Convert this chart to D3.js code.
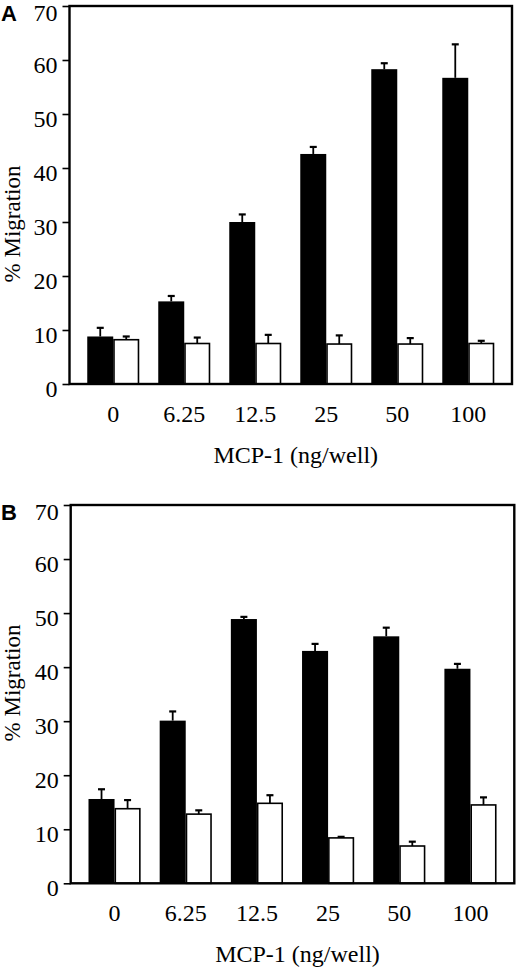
<!DOCTYPE html>
<html>
<head>
<meta charset="utf-8">
<script src="https://cdn.jsdelivr.net/npm/d3@7"></script>
<style>
  body { margin: 0; background: #fff; }
  svg text { font-family: "Liberation Serif", "Times New Roman", serif; fill: #000; }
  .panel-letter { font-family: "Liberation Sans", Arial, sans-serif !important; font-weight: bold; }
</style>
</head>
<body>
<div id="chart"></div>
<script>
// MCP-1 doses (ng/well)
const doses = ["0", "6.25", "12.5", "25", "50", "100"];
const series = ["black", "white"];
const yTicks = [0, 10, 20, 30, 40, 50, 60, 70];

// panel A, % migration (mean) and upper error
const blackA = [8.8, 15.3, 30.0, 42.6, 58.3, 56.7];
const blackErrA = [1.6, 1.0, 1.4, 1.3, 1.1, 6.2];
const whiteA = [8.2, 7.5, 7.5, 7.4, 7.4, 7.5];
const whiteErrA = [0.6, 1.1, 1.6, 1.6, 1.1, 0.5];

// panel B
const blackB = [15.6, 30.1, 48.9, 43.0, 45.7, 39.7];
const blackErrB = [1.8, 1.7, 0.4, 1.3, 1.6, 0.9];
const whiteB = [13.8, 12.8, 14.8, 8.4, 6.9, 14.5];
const whiteErrB = [1.6, 0.7, 1.5, 0.2, 0.8, 1.4];

const width = 520, height = 970;

const panels = [
  {letter: "A", left: 69.5, right: 512, top: 6, bottom: 384, titleY: 224,
   black: blackA, blackErr: blackErrA, white: whiteA, whiteErr: whiteErrA},
  {letter: "B", left: 70.7, right: 514.3, top: 505, bottom: 883.3, titleY: 683,
   black: blackB, blackErr: blackErrB, white: whiteB, whiteErr: whiteErrB}
];

const svg = d3.select("#chart").append("svg")
  .attr("width", width)
  .attr("height", height);

panels.forEach(function(p) {
  const x = d3.scaleBand()
    .domain(doses)
    .range([p.left, p.right])
    .paddingInner(0.268)
    .paddingOuter(0.25);

  const xs = d3.scaleBand()
    .domain(series)
    .range([0, x.bandwidth()]);

  const y = d3.scaleLinear()
    .domain([0, 70])
    .range([p.bottom, p.top]);

  const g = svg.append("g");

  const rows = doses.map(function(d, i) {
    return [
      {dose: d, s: "black", v: p.black[i], e: p.blackErr[i]},
      {dose: d, s: "white", v: p.white[i], e: p.whiteErr[i]}
    ];
  }).flat();

  // error bars (upper only)
  const err = g.selectAll(".err")
    .data(rows)
    .enter().append("g")
    .attr("class", "err")
    .attr("stroke", "#000")
    .attr("stroke-width", 1.8);

  err.append("line")
    .attr("x1", d => x(d.dose) + xs(d.s) + xs.bandwidth() / 2)
    .attr("x2", d => x(d.dose) + xs(d.s) + xs.bandwidth() / 2)
    .attr("y1", d => y(d.v))
    .attr("y2", d => y(d.v + d.e));

  err.append("line")
    .attr("x1", d => x(d.dose) + xs(d.s) + xs.bandwidth() / 2 - 3.5)
    .attr("x2", d => x(d.dose) + xs(d.s) + xs.bandwidth() / 2 + 3.5)
    .attr("y1", d => y(d.v + d.e))
    .attr("y2", d => y(d.v + d.e))
    .attr("stroke-width", 2.2);

  // bars
  g.selectAll(".bar")
    .data(rows)
    .enter().append("rect")
    .attr("class", "bar")
    .attr("x", d => x(d.dose) + xs(d.s) + (d.s === "white" ? 0.75 : 0))
    .attr("width", d => xs.bandwidth() - (d.s === "white" ? 1.5 : 0))
    .attr("y", d => y(d.v))
    .attr("height", d => y(0) - y(d.v))
    .attr("fill", d => d.s === "black" ? "#000" : "#fff")
    .attr("stroke", d => d.s === "black" ? "none" : "#000")
    .attr("stroke-width", 1.6);

  // frame
  g.append("rect")
    .attr("x", p.left)
    .attr("y", p.top)
    .attr("width", p.right - p.left)
    .attr("height", p.bottom - p.top)
    .attr("fill", "none")
    .attr("stroke", "#000")
    .attr("stroke-width", 2.4);

  // y axis
  const yAxis = g.append("g")
    .attr("transform", "translate(" + p.left + ",0)")
    .call(d3.axisLeft(y).tickValues(yTicks).tickSize(7).tickPadding(5).tickFormat(d3.format("d")));
  yAxis.select(".domain").remove();
  yAxis.selectAll(".tick line").attr("stroke", "#000").attr("stroke-width", 1.6);
  yAxis.selectAll(".tick text")
    .attr("font-size", 24)
    .attr("dy", d => d === 70 ? "0.62em" : "0.5em");

  // x axis (labels only)
  const xAxis = g.append("g")
    .attr("transform", "translate(0," + p.bottom + ")")
    .call(d3.axisBottom(x).tickSize(0).tickPadding(0));
  xAxis.select(".domain").remove();
  xAxis.selectAll(".tick text")
    .attr("font-size", 24)
    .attr("y", 38)
    .attr("dy", 0);

  // axis titles
  g.append("text")
    .attr("x", (p.left + p.right) / 2 + 5)
    .attr("y", p.bottom + 79)
    .attr("text-anchor", "middle")
    .attr("font-size", 24)
    .text("MCP-1 (ng/well)");

  g.append("text")
    .attr("transform", "translate(20," + p.titleY + ") rotate(-90)")
    .attr("text-anchor", "middle")
    .attr("font-size", 23)
    .text("% Migration");

  g.append("text")
    .attr("class", "panel-letter")
    .attr("x", 1)
    .attr("y", p.top + 15)
    .attr("font-size", 22)
    .text(p.letter);
});
</script>
</body>
</html>
